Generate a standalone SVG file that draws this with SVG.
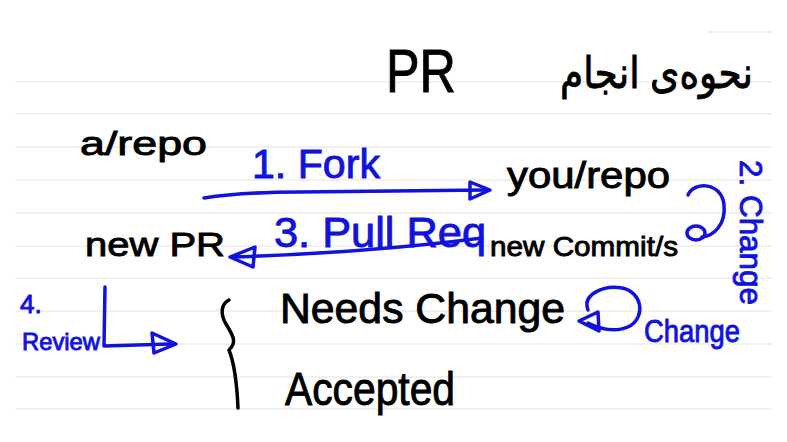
<svg xmlns="http://www.w3.org/2000/svg" width="787" height="442" viewBox="0 0 787 442">
<style>
.rule{stroke:#ededed;stroke-width:1.5;fill:none}
.k{font-family:"Liberation Sans","DejaVu Sans",sans-serif;fill:#000;stroke:#000;stroke-width:0.9}
.b{font-family:"Liberation Sans","DejaVu Sans",sans-serif;fill:#1212de;stroke:#1212de;stroke-width:0.9}
.conn{stroke:#1212de;stroke-width:3.5;fill:none;stroke-linecap:round;stroke-linejoin:round}
.brace{stroke:#000;stroke-width:3.5;fill:none;stroke-linecap:round;stroke-linejoin:round}
</style>
<rect width="787" height="442" fill="#fff"/>
<g id="rules">
<line class="rule" x1="708" y1="32" x2="772" y2="32"/>
<line class="rule" x1="15" y1="82" x2="772" y2="82"/>
<line class="rule" x1="15" y1="114" x2="772" y2="114"/>
<line class="rule" x1="15" y1="147" x2="772" y2="147"/>
<line class="rule" x1="15" y1="180" x2="772" y2="180"/>
<line class="rule" x1="15" y1="213" x2="772" y2="213"/>
<line class="rule" x1="15" y1="246" x2="772" y2="246"/>
<line class="rule" x1="15" y1="278" x2="772" y2="278"/>
<line class="rule" x1="15" y1="311" x2="772" y2="311"/>
<line class="rule" x1="15" y1="344" x2="772" y2="344"/>
<line class="rule" x1="15" y1="377" x2="772" y2="377"/>
<line class="rule" x1="15" y1="409" x2="772" y2="409"/>
</g>
<g id="title">
<text class="k" x="386" y="92" font-size="62" textLength="70" lengthAdjust="spacingAndGlyphs">PR</text>
<text class="k" x="560" y="88" font-size="44" font-family="DejaVu Sans,sans-serif" textLength="193" lengthAdjust="spacingAndGlyphs">نحوه‌ی انجام</text>
</g>
<g id="node-a-repo"><text class="k" x="80" y="155" font-size="34" textLength="127" lengthAdjust="spacingAndGlyphs">a/repo</text></g>
<g id="node-you-repo"><text class="k" x="507" y="188" font-size="36" textLength="163" lengthAdjust="spacingAndGlyphs">you/repo</text></g>
<g id="node-new-pr"><text class="k" x="85" y="256" font-size="34" textLength="140" lengthAdjust="spacingAndGlyphs">new PR</text></g>
<g id="node-new-commits"><text class="k" x="490" y="256" font-size="28" textLength="188" lengthAdjust="spacingAndGlyphs">new Commit/s</text></g>
<g id="node-needs-change"><text class="k" x="280" y="323" font-size="42" textLength="285" lengthAdjust="spacingAndGlyphs">Needs Change</text></g>
<g id="node-accepted"><text class="k" x="285" y="405" font-size="46" textLength="170" lengthAdjust="spacingAndGlyphs">Accepted</text></g>
<g id="brace"><path class="brace" d="M229,300 C221,304 220,314 226,324 C232,334 238,342 229,350 M229,350 C235,365 237,385 238,408"/></g>
<g id="labels">
<text class="b" x="252" y="178" font-size="40" textLength="128" lengthAdjust="spacingAndGlyphs">1. Fork</text>
<text class="b" x="274" y="247" font-size="42" textLength="212" lengthAdjust="spacingAndGlyphs">3. Pull Req</text>
<text class="b" transform="translate(740,160) rotate(90)" x="0" y="0" font-size="32" textLength="145" lengthAdjust="spacingAndGlyphs">2. Change</text>
<text class="b" x="20" y="313" font-size="26">4.</text>
<text class="b" x="22" y="350" font-size="24" textLength="78" lengthAdjust="spacingAndGlyphs">Review</text>
<text class="b" x="644" y="342" font-size="32" textLength="96" lengthAdjust="spacingAndGlyphs">Change</text>
</g>
<g id="connectors">
<path class="conn" d="M204,198 C230,194 260,192 300,192 L486,190"/>
<path class="conn" d="M470,182 L490,190 L470,199 Z"/>
<path class="conn" d="M482,238 C420,246 330,254 232,257"/>
<path class="conn" d="M255,247 L230,257 L253,267 Z"/>
<path class="conn" d="M688,195 C694,181 722,182 724,205 C726,224 714,236 702,237"/>
<ellipse class="conn" cx="696" cy="233" rx="9" ry="7"/>
<path class="conn" d="M105,287 L104,346 L170,344"/>
<path class="conn" d="M152,333 L176,344 L154,353 Z"/>
<path class="conn" d="M588,310 C582,294 604,285 622,288 C642,292 646,316 630,326 C616,333 602,330 588,323"/>
<path class="conn" d="M598,312 L579,321 L599,331 Z"/>
</g>
</svg>
